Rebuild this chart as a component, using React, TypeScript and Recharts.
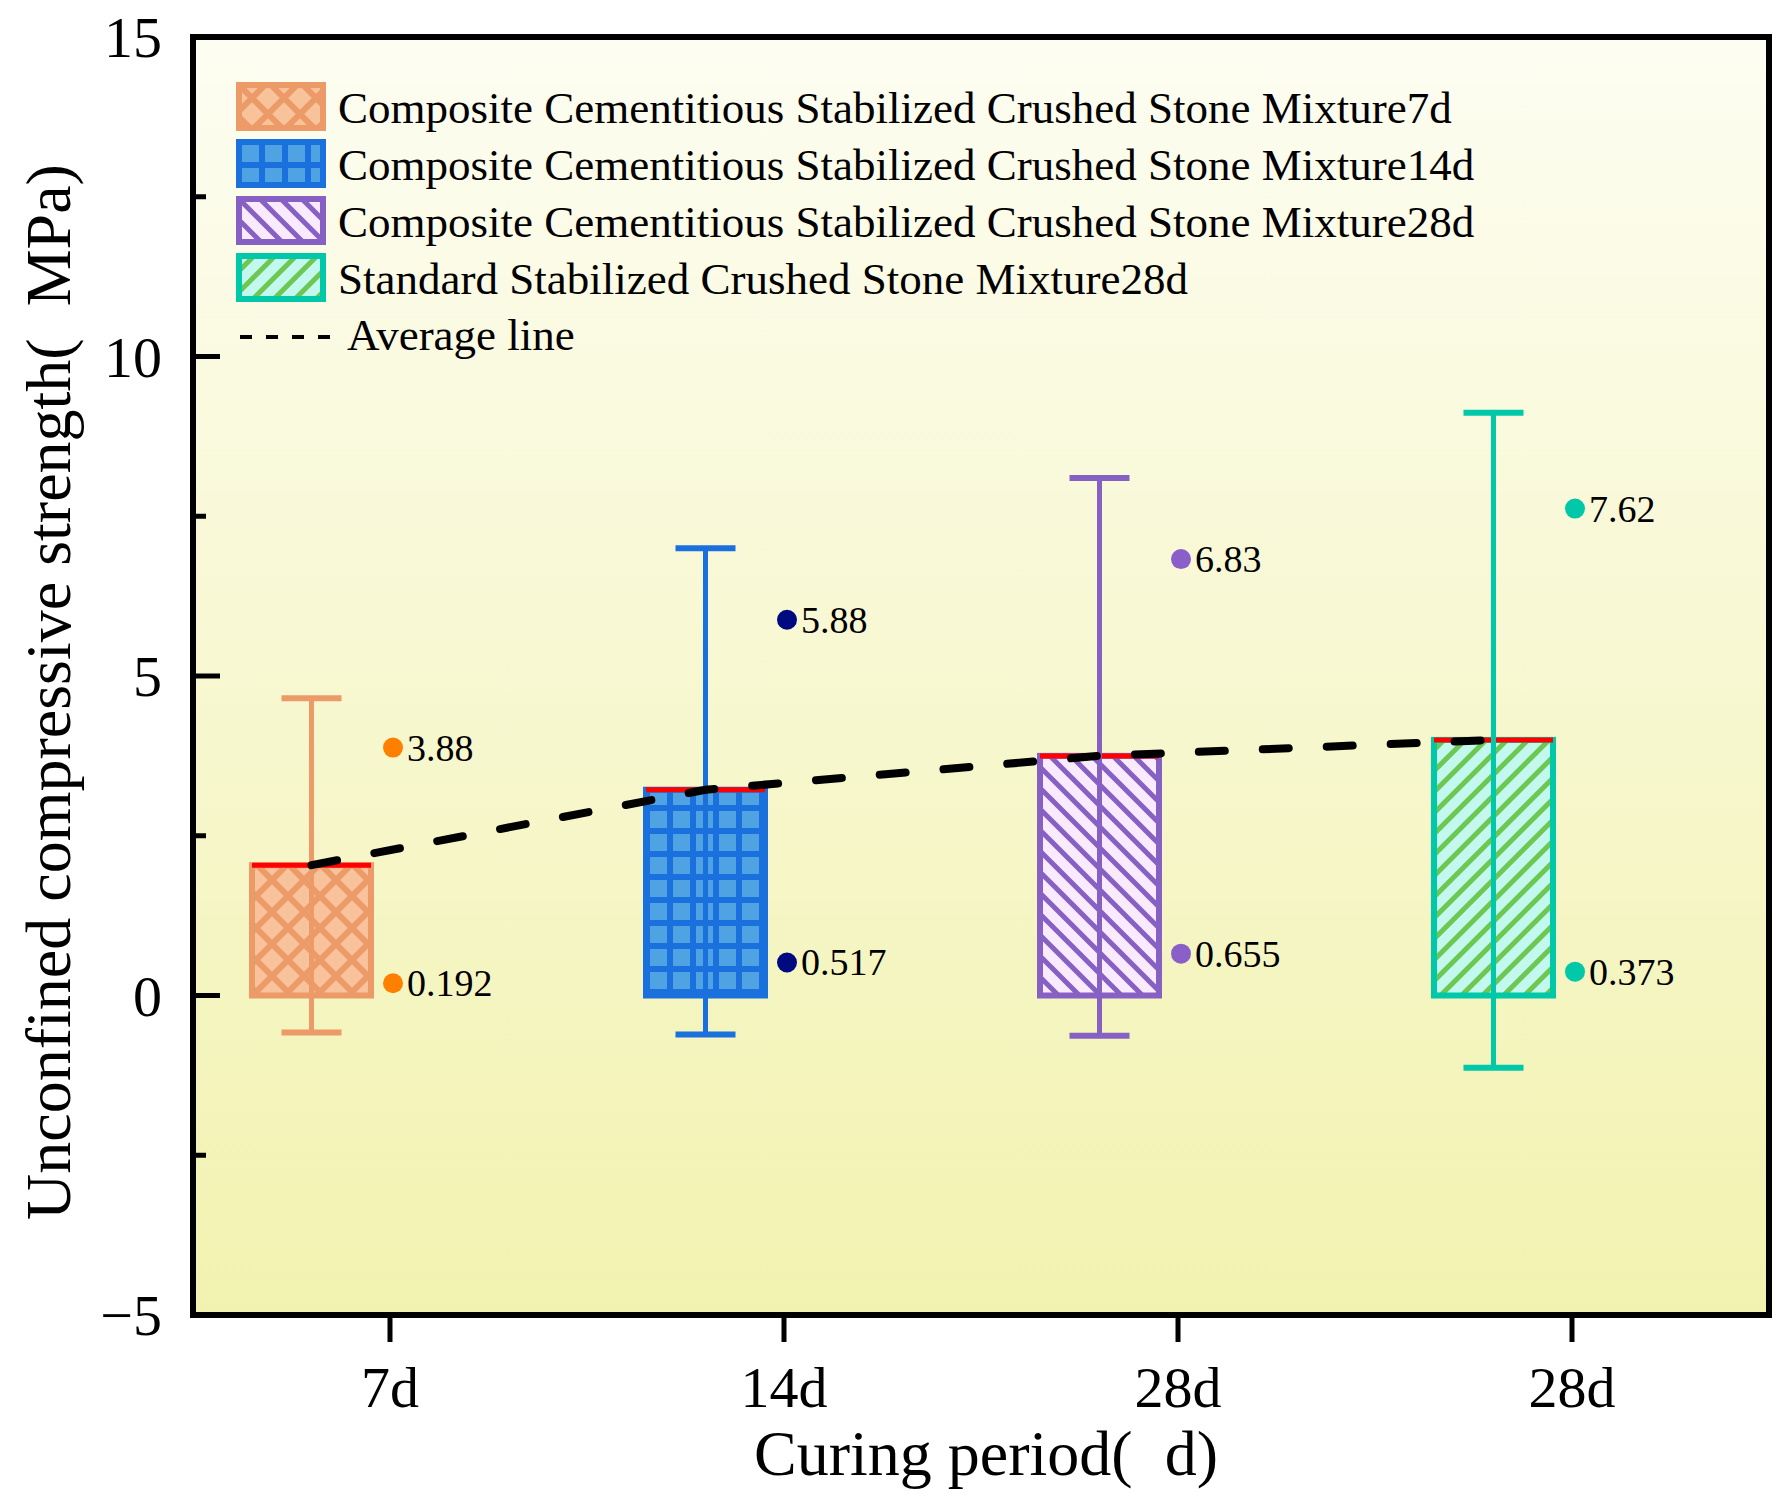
import React from 'react';
import { ComposedChart, Bar, Line, Scatter, XAxis, YAxis, CartesianGrid, Legend } from 'recharts';

// Values
const CATEGORY_KEYS = ['ccsm7', 'ccsm14', 'ccsm28', 'sscm28'];
const TICK_LABELS = ['7d', '14d', '28d', '28d'];
const SERIES_NAMES = [
  'Composite Cementitious Stabilized Crushed Stone Mixture7d',
  'Composite Cementitious Stabilized Crushed Stone Mixture14d',
  'Composite Cementitious Stabilized Crushed Stone Mixture28d',
  'Standard Stabilized Crushed Stone Mixture28d',
];
const MEAN_VALUES = [2.04, 3.22, 3.75, 4.0];
const WHISKER_LOW = [-0.58, -0.61, -0.63, -1.13];
const WHISKER_HIGH = [4.65, 7.0, 8.1, 9.12];
const POINT_UPPER = [3.88, 5.88, 6.83, 7.62];
const POINT_LOWER = [0.192, 0.517, 0.655, 0.373];
const X_TICKS = [1, 2, 3, 4];
const Y_TICKS = [-5, -2.5, 0, 2.5, 5, 7.5, 10, 12.5, 15];

// Styling
const FONT = '"Liberation Serif", "Times New Roman", serif';
const BORDER_COLORS = ['#ec9a68', '#1a70dc', '#8660c2', '#00c8a8'];
const DOT_COLORS = ['#ff8000', '#000a80', '#8a60c8', '#00c8a8'];
const PATTERN_IDS = ['pat7', 'pat14', 'pat28', 'patStd'];

const BAR_SIZE = 119;
const BAR_GAP = 38;
const BAND = 1576 / 4;
const BOX_SHIFT = (BAR_SIZE + BAR_GAP) / 2 / BAND;

const rows = CATEGORY_KEYS.map((key, i) => ({
  key,
  idx: i,
  mean: MEAN_VALUES[i],
  range: [WHISKER_LOW[i], WHISKER_HIGH[i]],
  ghost: null,
}));
const averageLine = MEAN_VALUES.map((m, i) => ({ x: X_TICKS[i] - BOX_SHIFT, y: m }));
const pointSets = X_TICKS.map((x, i) => [
  { x, y: POINT_UPPER[i] },
  { x, y: POINT_LOWER[i] },
]);

const BoxShape = (props: any) => {
  const { x, y, width, height, payload } = props;
  if (!height || !isFinite(y)) return null;
  const i = payload.idx;
  return (
    <g>
      <rect x={x} y={y} width={width} height={height} fill={`url(#${PATTERN_IDS[i]})`}
        stroke={BORDER_COLORS[i]} strokeWidth={6} />
      <line x1={x} x2={x + width} y1={y} y2={y} stroke="#ff0000" strokeWidth={5} />
    </g>
  );
};

const WhiskerShape = (props: any) => {
  const { x, y, width, height, payload } = props;
  if (!isFinite(y) || !isFinite(height)) return null;
  const color = BORDER_COLORS[payload.idx];
  const cx = x + width / 2;
  const top = Math.min(y, y + height);
  const bot = Math.max(y, y + height);
  return (
    <g stroke={color}>
      <line x1={cx} x2={cx} y1={top} y2={bot} strokeWidth={5} />
      <line x1={cx - 30} x2={cx + 30} y1={top} y2={top} strokeWidth={6} />
      <line x1={cx - 30} x2={cx + 30} y1={bot} y2={bot} strokeWidth={6} />
    </g>
  );
};

const makeDot = (color: string) => (p: any) => (
  <g>
    <circle cx={p.cx + 3} cy={p.cy} r={10} fill={color} />
    <text x={p.cx + 17} y={p.cy + 13} fontSize={38} fontFamily={FONT} fill="#000">{p.payload.y}</text>
  </g>
);

const YTick = (p: any) => {
  const v = p.payload.value;
  const major = v % 5 === 0;
  return (
    <g>
      <line x1={p.x} x2={p.x + (major ? 27 : 13)} y1={p.y} y2={p.y} stroke="#000" strokeWidth={5} />
      {major && (
        <text x={p.x - 31} y={p.y + 20} textAnchor="end" fontSize={58} fontFamily={FONT} fill="#000">
          {v < 0 ? '\u2212' + Math.abs(v) : v}
        </text>
      )}
    </g>
  );
};

const XTick = (p: any) => (
  <g>
    <line x1={p.x} x2={p.x} y1={p.y} y2={p.y + 27} stroke="#000" strokeWidth={5} />
    <text x={p.x} y={p.y + 92} textAnchor="middle" fontSize={58} fontFamily={FONT} fill="#000">
      {TICK_LABELS[p.payload.value - 1]}
    </text>
  </g>
);

const LegendBox = () => (
  <svg width={1300} height={290} style={{ display: 'block', overflow: 'visible' }}>
    {SERIES_NAMES.map((name, i) => (
      <g key={name} transform={`translate(0, ${i * 57})`}>
        <rect x={3} y={3} width={84} height={43} fill={`url(#${PATTERN_IDS[i]})`}
          stroke={BORDER_COLORS[i]} strokeWidth={6} />
        <text x={102} y={41} fontSize={45} fontFamily={FONT} fill="#000">{name}</text>
      </g>
    ))}
    <line x1={4} x2={96} y1={255} y2={255} stroke="#000" strokeWidth={4} strokeDasharray="12 14" />
    <text x={111} y={268} fontSize={45} fontFamily={FONT} fill="#000">Average line</text>
  </svg>
);

const axisLine = { stroke: '#000', strokeWidth: 6, strokeLinecap: 'square' as const };

export default function App() {
  return (
    <div style={{ width: 1788, height: 1508, position: 'relative', background: '#fff' }}>
      <style>{'body{margin:0}'}</style>
      <svg width={0} height={0} style={{ position: 'absolute' }}>
        <defs>
          <linearGradient id="bgGrad" x1="0" y1="0" x2="0" y2="1">
            <stop offset="0" stopColor="#fdfdf2" />
            <stop offset="1" stopColor="#f2f2b0" />
          </linearGradient>
          <pattern id="pat7" patternUnits="userSpaceOnUse" width={32} height={32}>
            <rect width={32} height={32} fill="#f8c29b" />
            <path d="M0 0L32 32M32 0L0 32" stroke="#ec9a68" strokeWidth={6} />
          </pattern>
          <pattern id="pat14" patternUnits="userSpaceOnUse" width={23} height={23}>
            <rect width={23} height={23} fill="#4fa3e3" />
            <rect width={6} height={23} fill="#1a70dc" />
            <rect width={23} height={6} fill="#1a70dc" />
          </pattern>
          <pattern id="pat28" patternUnits="userSpaceOnUse" width={21} height={21}>
            <rect width={21} height={21} fill="#f9eaff" />
            <path d="M0 0L21 21M-3 18L3 24M18 -3L24 3" stroke="#8660c2" strokeWidth={5} />
          </pattern>
          <pattern id="patStd" patternUnits="userSpaceOnUse" width={21} height={21}>
            <rect width={21} height={21} fill="#c2f8ee" />
            <path d="M0 21L21 0M-3 3L3 -3M18 24L24 18" stroke="#6cc850" strokeWidth={5} />
          </pattern>
        </defs>
      </svg>
      <ComposedChart
        width={1788}
        height={1508}
        data={rows}
        margin={{ top: 36, right: 18, left: 0, bottom: 0 }}
        barGap={BAR_GAP}
        style={{ fontFamily: FONT }}
      >
        <CartesianGrid xAxisId="num" yAxisId="y" horizontal={false} vertical={false} fill="url(#bgGrad)" />
        <XAxis
          xAxisId="num"
          dataKey="x"
          type="number"
          domain={[0.5, 4.5]}
          allowDataOverflow
          ticks={X_TICKS}
          interval={0}
          height={193}
          tickSize={0}
          tickMargin={0}
          tickLine={false}
          tick={<XTick />}
          axisLine={axisLine}
          label={{
            content: () => (
              <text x={986} y={1475} textAnchor="middle" fontSize={64} fontFamily={FONT} fill="#000">
                {'Curing period(\u2002d)'}
              </text>
            ),
          }}
        />
        <XAxis xAxisId="cat" dataKey="key" type="category" orientation="top" height={0} hide />
        <XAxis xAxisId="cat2" dataKey="key" type="category" orientation="top" height={0} hide />
        <XAxis xAxisId="top" orientation="top" type="number" domain={[0, 1]} height={1}
          tick={false} tickLine={false} axisLine={axisLine} />
        <YAxis
          yAxisId="y"
          type="number"
          domain={[-5, 15]}
          allowDataOverflow
          ticks={Y_TICKS}
          interval={0}
          width={193}
          tickSize={0}
          tickMargin={0}
          tickLine={false}
          tick={<YTick />}
          axisLine={axisLine}
          label={{
            content: () => (
              <text x={70} y={692} transform="rotate(-90 70 692)" textAnchor="middle" fontSize={64}
                fontFamily={FONT} fill="#000">
                {'Unconfined compressive strength(\u2002MPa)'}
              </text>
            ),
          }}
        />
        <YAxis yAxisId="ys" dataKey="y" type="number" domain={[-5, 15]} allowDataOverflow width={0} hide />
        <YAxis yAxisId="right" orientation="right" type="number" domain={[-5, 15]} width={1}
          tick={false} tickLine={false} axisLine={axisLine} />

        <Bar xAxisId="cat" yAxisId="y" dataKey="mean" barSize={BAR_SIZE} shape={<BoxShape />}
          isAnimationActive={false} />
        <Bar xAxisId="cat" yAxisId="y" dataKey="ghost" barSize={BAR_SIZE} fill="none"
          isAnimationActive={false} />
        <Bar xAxisId="cat2" yAxisId="y" dataKey="range" barSize={BAR_SIZE} shape={<WhiskerShape />}
          isAnimationActive={false} />
        <Bar xAxisId="cat2" yAxisId="y" dataKey="ghost" barSize={BAR_SIZE} fill="none"
          isAnimationActive={false} />

        <Line xAxisId="num" yAxisId="y" data={averageLine} dataKey="y" stroke="#000" strokeWidth={8}
          strokeDasharray="26 38" strokeLinecap="round" dot={false} activeDot={false}
          isAnimationActive={false} />

        {pointSets.map((pts, i) => (
          <Scatter key={CATEGORY_KEYS[i]} xAxisId="num" yAxisId="ys" data={pts} dataKey="y"
            shape={makeDot(DOT_COLORS[i])} isAnimationActive={false} />
        ))}

        <Legend
          layout="horizontal"
          verticalAlign="middle"
          align="center"
          content={<LegendBox />}
          wrapperStyle={{ left: 236, top: 82, width: 1300, height: 290 }}
        />
      </ComposedChart>
    </div>
  );
}
